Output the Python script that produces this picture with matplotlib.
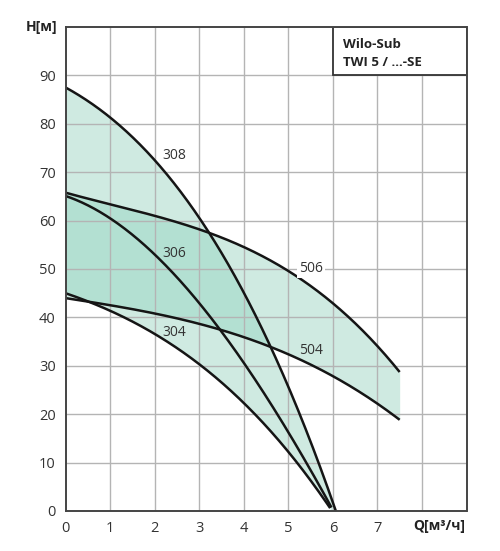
import numpy as np
import matplotlib
matplotlib.use("Agg")
import matplotlib.pyplot as plt
from matplotlib.patches import Rectangle

# ---- data ----
q_308 = [0, 1, 2, 2.7, 3.3, 4, 4.6, 5, 5.5, 6.07]
h_308 = [87.3, 82, 72, 64, 57, 45, 34, 26, 14, 0]
q_306 = [0, 1, 2, 3, 3.43, 4, 4.5, 5, 5.5, 5.97]
h_306 = [65, 60.5, 53.5, 42.8, 37.5, 30.5, 23.5, 16.5, 9.5, 0]
q_304 = [0, 1, 2, 3, 4, 5, 5.5, 5.94]
h_304 = [44.8, 41.8, 36.6, 30.1, 21.9, 12.6, 7, 0]
q_506 = [0, 1, 2, 3, 4, 5, 6, 7, 7.5]
h_506 = [65.8, 63.3, 61, 58.3, 54.5, 49.7, 42.5, 34.7, 28.4]
q_504 = [0, 1, 2, 3, 4, 5, 6, 7, 7.5]
h_504 = [44, 42.5, 40.8, 38.7, 35.9, 32.5, 27.7, 22.3, 18.8]

curve_names = ["308", "306", "304", "506", "504"]
x_ticks = [0, 1, 2, 3, 4, 5, 6, 7]
y_ticks = [0, 10, 20, 30, 40, 50, 60, 70, 80, 90]
title_lines = ["Wilo-Sub", "TWI 5 / ...-SE"]


def smooth(q, h, xs):
    """least-squares cubic through the read points, for a smooth drawn curve"""
    c = np.polyfit(q, h, 3)
    return np.polyval(c, xs)


def curve(q, h):
    xs = np.linspace(q[0], q[-1], 400)
    return xs, smooth(q, h, xs)


font = "Open Sans"
plt.rcParams["font.family"] = [font, "DejaVu Sans"]

fig = plt.figure(figsize=(5.0, 5.51), dpi=100)
ax = fig.add_axes([0.131, 0.0726, 0.802, 0.8784])
ax.set_xlim(0, 9)
ax.set_ylim(0, 100)

light = "#cfeae1"
dark = "#b3e0d2"

# fills on a common grid
X = np.linspace(0, 7.5, 3000)
def on_grid(q, h):
    v = smooth(q, h, X)
    v[X > q[-1]] = 0.0
    return np.maximum(v, 0)

H308 = on_grid(q_308, h_308)
H304 = on_grid(q_304, h_304)
H506 = on_grid(q_506, h_506)
H504 = on_grid(q_504, h_504)

m3 = X <= q_308[-1]
ax.fill_between(X, H304, H308, where=m3 & (H308 >= H304), color=light, lw=0, zorder=1)
ax.fill_between(X, H504, H506, color=light, lw=0, zorder=1)
lo = np.maximum(H304, H504)
hi = np.minimum(H308, H506)
ax.fill_between(X, lo, hi, where=m3 & (hi > lo), color=dark, lw=0, zorder=1.1)

# grid
for xv in range(1, 9):
    ax.axvline(xv, color="#b4b4b4", lw=1.0, zorder=2)
for yv in range(10, 100, 10):
    ax.axhline(yv, color="#b4b4b4", lw=1.0, zorder=2)

# curves
for q, h in [(q_308, h_308), (q_306, h_306), (q_304, h_304), (q_506, h_506), (q_504, h_504)]:
    xs, ys = curve(q, h)
    ax.plot(xs, ys, color="#151515", lw=1.8, zorder=3, solid_capstyle="butt")

# labels
lab_pos = [(2.45, 73.4), (2.45, 53.2), (2.45, 36.9), (5.5, 50.1), (5.5, 33.2)]
for name, (lx, ly) in zip(curve_names, lab_pos):
    kw = {}
    if name == "506":
        kw["bbox"] = dict(facecolor="white", edgecolor="none", pad=1.5)
    ax.text(lx, ly, name, ha="center", va="center", fontsize=10, color="#333333", zorder=4, **kw)

# title box
ax.add_patch(Rectangle((6, 90), 3, 10, facecolor="white", edgecolor="#333333", lw=1.3, zorder=5))
ax.text(6.22, 96.3, title_lines[0], ha="left", va="center", fontsize=9.5, fontweight="bold", color="#222222", zorder=6)
ax.text(6.22, 92.6, title_lines[1], ha="left", va="center", fontsize=9.5, fontweight="bold", color="#222222", zorder=6)

# ticks
ax.set_xticks(x_ticks)
ax.set_yticks(y_ticks)
ax.set_xticklabels([str(v) for v in x_ticks])
ax.set_yticklabels([str(v) for v in y_ticks])
ax.tick_params(length=0, labelsize=10.5, colors="#333333", pad=7)
for s in ax.spines.values():
    s.set_color("#444444")
    s.set_linewidth(1.4)
    s.set_zorder(5)

ax.text(-0.18, 100, "H[м]", ha="right", va="center", fontsize=10, fontweight="bold", color="#222222")
ax.text(8.38, -3.0, "Q[м³/ч]", ha="center", va="center", fontsize=10, fontweight="bold", color="#222222")

fig.savefig("out.png", dpi=100, facecolor="white")
